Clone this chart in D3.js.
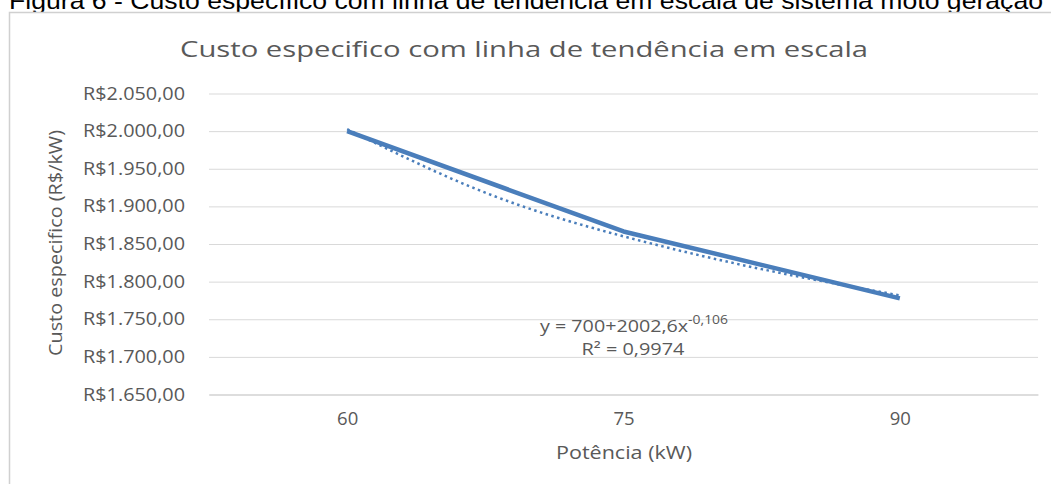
<!DOCTYPE html>
<html>
<head>
<meta charset="utf-8">
<script src="https://cdn.jsdelivr.net/npm/d3@7"></script>
<style>
  body { margin: 0; background: #fff; }
  svg { display: block; }
</style>
</head>
<body>
<script>
// data
const potencias = ["60", "75", "90"]
const custo = [2000.00, 1866.67, 1777.78]
// trendline (power fit) read at fractional category positions
const trendPos = [1, 1.5, 2, 2.5, 3]
const trendVals = [2002.6, 1918.2, 1860.2, 1816.6, 1781.7]
const yTicks = [1650, 1700, 1750, 1800, 1850, 1900, 1950, 2000, 2050]

const width = 1051
const height = 484
const plotLeft = 209, plotRight = 1038, plotTop = 93.5, plotBottom = 394.5
const blue = "#4a7ebb"
const grey = "#595959"
const font = "'Open Sans', sans-serif"

const svg = d3.select("body").append("svg")
    .attr("width", width)
    .attr("height", height)

// caption of the figure, clipped by the top edge like in the source
svg.append("text")
    .attr("x", 9)
    .attr("y", 8.5)
    .attr("font-family", "'Liberation Sans', Arial, sans-serif")
    .attr("font-size", 24)
    .attr("fill", "#000")
    .attr("textLength", 1034)
    .attr("lengthAdjust", "spacingAndGlyphs")
    .text("Figura 6 - Custo específico com linha de tendência em escala de sistema moto geração")

// chart frame
svg.append("rect")
    .attr("x", 9.5).attr("y", 12.5)
    .attr("width", 1100).attr("height", 500)
    .attr("fill", "#fff")
    .attr("stroke", "#d0d0d0")
    .attr("stroke-width", 1.5)

svg.append("text")
    .attr("x", 524)
    .attr("y", 57)
    .attr("text-anchor", "middle")
    .attr("font-family", font)
    .attr("font-size", 21.5)
    .attr("fill", grey)
    .attr("textLength", 688)
    .attr("lengthAdjust", "spacingAndGlyphs")
    .text("Custo especifico com linha de tendência em escala")

const x = d3.scalePoint().domain(potencias).range([plotLeft, plotRight]).padding(0.5)
const xi = d3.scaleLinear().domain([0.5, potencias.length + 0.5]).range([plotLeft, plotRight])
const y = d3.scaleLinear().domain([1650, 2050]).range([plotBottom, plotTop])

// gridlines + y labels
const yAxis = svg.append("g")
    .attr("transform", `translate(${plotLeft},0)`)
    .call(d3.axisLeft(y)
        .tickValues(yTicks)
        .tickSize(-(plotRight - plotLeft))
        .tickPadding(24)
        .tickFormat(d => "R$" + d3.format(",.2f")(d).replace(/,/g, "#").replace(".", ",").replace(/#/g, ".")))
yAxis.select(".domain").remove()
yAxis.selectAll("line").attr("stroke", "#d9d9d9").attr("stroke-width", 1)
yAxis.selectAll("text")
    .attr("font-family", font)
    .attr("font-size", 17.5)
    .attr("fill", grey)
    .attr("textLength", 102)
    .attr("lengthAdjust", "spacingAndGlyphs")

// bottom axis
const xAxis = svg.append("g")
    .attr("transform", `translate(0,${plotBottom})`)
    .call(d3.axisBottom(x).tickSize(0).tickPadding(17))
xAxis.select(".domain").attr("stroke", "#d9d9d9").attr("stroke-width", 1.5)
xAxis.selectAll("text")
    .attr("font-family", font)
    .attr("font-size", 18.5)
    .attr("fill", grey)

// series line
svg.append("path")
    .datum(custo)
    .attr("fill", "none")
    .attr("stroke", blue)
    .attr("stroke-width", 4.5)
    .attr("stroke-linejoin", "round")
    .attr("d", d3.line()
        .x((d, i) => xi(i + 1))
        .y(d => y(d)))

// dotted trendline
svg.append("path")
    .datum(trendVals)
    .attr("fill", "none")
    .attr("stroke", blue)
    .attr("stroke-width", 2.5)
    .attr("stroke-dasharray", "2.5,3.5")
    .attr("d", d3.line()
        .curve(d3.curveNatural)
        .x((d, i) => xi(trendPos[i]))
        .y(d => y(d)))

// equation label
const eq = svg.append("text")
    .attr("x", 634)
    .attr("y", 332)
    .attr("text-anchor", "middle")
    .attr("font-family", font)
    .attr("font-size", 17)
    .attr("fill", grey)
    .attr("textLength", 188)
    .attr("lengthAdjust", "spacingAndGlyphs")
eq.append("tspan").text("y = 700+2002,6x")
eq.append("tspan").attr("dy", -8).attr("font-size", 12).text("-0,106")

svg.append("text")
    .attr("x", 633)
    .attr("y", 355)
    .attr("text-anchor", "middle")
    .attr("font-family", font)
    .attr("font-size", 17)
    .attr("fill", grey)
    .attr("textLength", 103)
    .attr("lengthAdjust", "spacingAndGlyphs")
    .text("R² = 0,9974")

// axis titles
svg.append("text")
    .attr("transform", "translate(62,243) rotate(-90)")
    .attr("text-anchor", "middle")
    .attr("font-family", font)
    .attr("font-size", 18.5)
    .attr("fill", grey)
    .attr("textLength", 226)
    .attr("lengthAdjust", "spacingAndGlyphs")
    .text("Custo especifico (R$/kW)")

svg.append("text")
    .attr("x", 624)
    .attr("y", 459)
    .attr("text-anchor", "middle")
    .attr("font-family", font)
    .attr("font-size", 19)
    .attr("fill", grey)
    .attr("textLength", 136)
    .attr("lengthAdjust", "spacingAndGlyphs")
    .text("Potência (kW)")
</script>
</body>
</html>
